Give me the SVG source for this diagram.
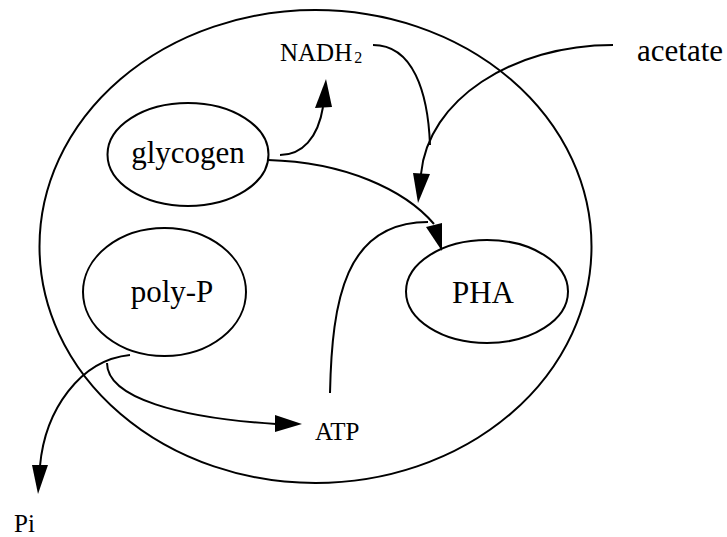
<svg xmlns="http://www.w3.org/2000/svg" width="727" height="537" viewBox="0 0 727 537">
  <style>
    .cell { fill: none; stroke: #000; stroke-width: 2; }
    .pool { fill: #fff; stroke: #000; stroke-width: 2; }
    .flow { fill: none; stroke: #000; stroke-width: 2; }
    .head { fill: #000; stroke: none; }
    text { font-family: "Liberation Serif", "Times New Roman", serif; fill: #000; }
    .big { font-size: 31px; }
    .small { font-size: 25px; }
  </style>
  <rect width="727" height="537" fill="#fff"/>

  <!-- cell boundary -->
  <g id="cell">
    <ellipse class="cell" cx="315.5" cy="246.5" rx="276" ry="236.5"/>
  </g>

  <!-- intracellular pools -->
  <g id="glycogen">
    <ellipse class="pool" cx="188" cy="154.5" rx="80.5" ry="51.5"/>
    <text class="big" x="188" y="163" text-anchor="middle">glycogen</text>
  </g>
  <g id="polyP">
    <ellipse class="pool" cx="164.5" cy="292" rx="81.5" ry="64"/>
    <text class="big" x="172" y="302" text-anchor="middle">poly-P</text>
  </g>
  <g id="PHA">
    <ellipse class="pool" cx="487" cy="291.5" rx="81" ry="51.5"/>
    <text class="big" x="483" y="303" text-anchor="middle">PHA</text>
  </g>

  <!-- cofactors and external species -->
  <g id="NADH2">
    <text class="small" x="280" y="61">NADH<tspan font-size="16" dx="2" dy="2">2</tspan></text>
  </g>
  <g id="acetate">
    <text class="big" x="637" y="61">acetate</text>
  </g>
  <g id="ATP">
    <text class="small" x="315" y="440">ATP</text>
  </g>
  <g id="Pi">
    <text class="small" x="14" y="532">Pi</text>
  </g>

  <!-- reaction arrows -->
  <g id="connectors">
    <!-- glycogen -> NADH2 -->
    <path class="flow" d="M280,155 C302,155 318,138 323,107"/>
    <polygon class="head" points="326,79 315,108 332,107"/>
    <!-- NADH2 -> joins acetate uptake -->
    <path class="flow" d="M373,45 C413,45 428,92 430,145"/>
    <!-- acetate -> PHA -->
    <path class="flow" d="M613,45 C512,45 428,100 421,174"/>
    <polygon class="head" points="418,203 413,173 430,174"/>
    <!-- glycogen -> PHA -->
    <path class="flow" d="M268,160 C345,162 405,190 434,224"/>
    <polygon class="head" points="442,251 426,227 442,223"/>
    <!-- ATP -> PHA -->
    <path class="flow" d="M330,393 C332,300 345,222 428,222"/>
    <!-- poly-P -> ATP -->
    <path class="flow" d="M107,363 C107,398 180,418 276,424"/>
    <polygon class="head" points="302,424 275,415 275,432"/>
    <!-- poly-P -> Pi -->
    <path class="flow" d="M130,355 C80,360 45,410 40,466"/>
    <polygon class="head" points="38,494 32,465 48,465"/>
  </g>
</svg>
